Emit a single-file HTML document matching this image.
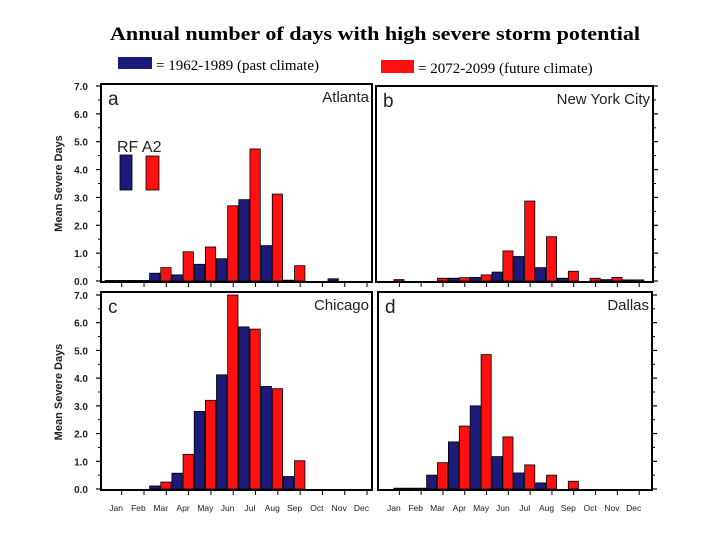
<!DOCTYPE html>
<html><head><meta charset="utf-8"><style>
body{margin:0;background:#fff;width:720px;height:540px;overflow:hidden}
svg{display:block}
</style></head><body>
<svg id="chart" width="720" height="540" viewBox="0 0 720 540" xmlns="http://www.w3.org/2000/svg">
<text x="110" y="40" textLength="530" lengthAdjust="spacingAndGlyphs" font-family="Liberation Serif, serif" font-weight="bold" font-size="19">Annual number of days with high severe storm potential</text>
<g>
<rect x="118" y="57" width="34" height="12" fill="#1c1a7a"/>
<text x="156" y="70" font-family="Liberation Serif, serif" font-size="15">= 1962-1989  (past climate)</text>
<rect x="381" y="60" width="33" height="13" fill="#ff1010"/>
<text x="418" y="73" font-family="Liberation Serif, serif" font-size="15">= 2072-2099  (future climate)</text>
</g>
<g id="panels"></g>
</svg>
<script>
const months = ["Jan","Feb","Mar","Apr","May","Jun","Jul","Aug","Sep","Oct","Nov","Dec"];
const yTicks = ["0.0","1.0","2.0","3.0","4.0","5.0","6.0","7.0"];
const atlantaPast   = [0.02,0.02,0.28,0.22,0.6,0.8,2.92,1.27,0.03,0,0.08,0];
const atlantaFuture = [0.02,0.02,0.48,1.05,1.22,2.7,4.74,3.12,0.55,0,0,0];
const nycPast   = [0,0,0,0.1,0.13,0.32,0.88,0.48,0.1,0,0.05,0.04];
const nycFuture = [0.05,0,0.1,0.12,0.22,1.08,2.87,1.59,0.35,0.1,0.13,0.04];
const chicagoPast   = [0,0,0.11,0.57,2.8,4.12,5.85,3.7,0.45,0,0,0];
const chicagoFuture = [0,0,0.25,1.25,3.2,7.0,5.77,3.62,1.02,0,0,0];
const dallasPast   = [0,0.03,0.5,1.7,3.0,1.17,0.58,0.22,0,0,0,0];
const dallasFuture = [0.03,0.03,0.95,2.27,4.85,1.88,0.87,0.5,0.28,0,0,0];

const NS="http://www.w3.org/2000/svg";
const root=document.getElementById('panels');
function mk(tag,attrs,parent){const e=document.createElementNS(NS,tag);for(const k in attrs)e.setAttribute(k,attrs[k]);(parent||root).appendChild(e);return e;}

const panels=[
 {id:'atlanta',letter:'a',city:'Atlanta',past:atlantaPast,fut:atlantaFuture,fx:101,fy:84,fw:271,fh:198,x0:105,mw:22.3,yTop:86,yBot:281,left:true,months:false},
 {id:'nyc',letter:'b',city:'New York City',past:nycPast,fut:nycFuture,fx:376,fy:86,fw:277,fh:196,x0:383,mw:21.8,yTop:86,yBot:281,left:false,months:false},
 {id:'chicago',letter:'c',city:'Chicago',past:chicagoPast,fut:chicagoFuture,fx:101,fy:292,fw:271,fh:198,x0:105,mw:22.3,yTop:295,yBot:489,left:true,months:true},
 {id:'dallas',letter:'d',city:'Dallas',past:dallasPast,fut:dallasFuture,fx:378,fy:292,fw:274,fh:198,x0:383,mw:21.8,yTop:295,yBot:489,left:false,months:true}
];

panels.forEach(p=>{
 const g=mk('g',{});
 
 
 const yS=v=>p.yBot-(v/7)*(p.yBot-p.yTop);
 const xS=i=>p.x0+i*p.mw;
 const bw=p.mw/2-0.8;
 for(let i=0;i<12;i++){
  if(p.past[i]>0){
   const r=mk('rect',{x:xS(i),y:yS(p.past[i]),width:bw,height:p.yBot-yS(p.past[i]),fill:'#1c1a7a',stroke:'#000','stroke-width':0.8},g);
   
   
  }
  if(p.fut[i]>0){
   const r=mk('rect',{x:xS(i)+p.mw/2,y:yS(p.fut[i]),width:bw,height:p.yBot-yS(p.fut[i]),fill:'#ff1010',stroke:'#000','stroke-width':0.8},g);
   
   
  }
  const t=mk('line',{x1:xS(i)+p.mw*0.75,x2:xS(i)+p.mw*0.75,y1:p.yBot,y2:p.yBot+6,stroke:'#000','stroke-width':1},g);
  
  
  if(p.months){
   const ml=mk('text',{x:xS(i)+p.mw/2,y:511,'text-anchor':'middle','font-family':'Liberation Sans, sans-serif','font-size':8.5,fill:'#222'},g);
   ml.textContent=months[i];
   
   
  }
 }
 const fr=mk('rect',{x:p.fx,y:p.fy,width:p.fw,height:p.fh,fill:'none',stroke:'#000','stroke-width':2},g);
 
 
 yTicks.forEach((lab,j)=>{
  const y=yS(parseFloat(lab));
  const tx=p.left?p.fx:p.fx+p.fw;
  const d=p.left?-1:1;
  const tk=mk('line',{x1:tx,x2:tx+d*5,y1:y,y2:y,stroke:'#000','stroke-width':1.2},g);
  
  
  const ym=yS(parseFloat(lab)+0.5);
  if(j<7){const tm=mk('line',{x1:tx,x2:tx+d*3,y1:ym,y2:ym,stroke:'#000','stroke-width':1},g);
   
   }
  if(p.left){
   const tl=mk('text',{x:88,y:y+4,'text-anchor':'end','font-family':'Liberation Sans, sans-serif','font-size':10,'font-weight':'bold',fill:'#222'},g);
   tl.textContent=lab;
   
   
  }
 });
 if(p.left){
  const cy=(p.yTop+p.yBot)/2;
  const at=mk('text',{x:62,y:cy,transform:`rotate(-90 62 ${cy})`,'text-anchor':'middle','font-family':'Liberation Sans, sans-serif','font-size':11,'font-weight':'bold',fill:'#222'},g);
  at.textContent='Mean Severe Days';
  
  
 }
 const lt=mk('text',{x:p.fx+7,y:p.fy+21,'font-family':'Liberation Sans, sans-serif','font-size':19,fill:'#222'},g);
 lt.textContent=p.letter;
 
 
 const ct=mk('text',{x:p.fx+p.fw-3,y:p.fy+18,'text-anchor':'end','font-family':'Liberation Sans, sans-serif','font-size':15,fill:'#222'},g);
 ct.textContent=p.city;
 
 
});

const ig=mk('g',{});


const it=mk('text',{x:117,y:152,'font-family':'Liberation Sans, sans-serif','font-size':16,fill:'#222'},ig);
it.textContent='RF A2';


const ib=mk('rect',{x:120,y:155,width:12,height:35,fill:'#1c1a7a',stroke:'#000','stroke-width':0.8},ig);


const ir=mk('rect',{x:146,y:156,width:13,height:34,fill:'#ff1010',stroke:'#000','stroke-width':0.8},ig);


</script>
</body></html>
